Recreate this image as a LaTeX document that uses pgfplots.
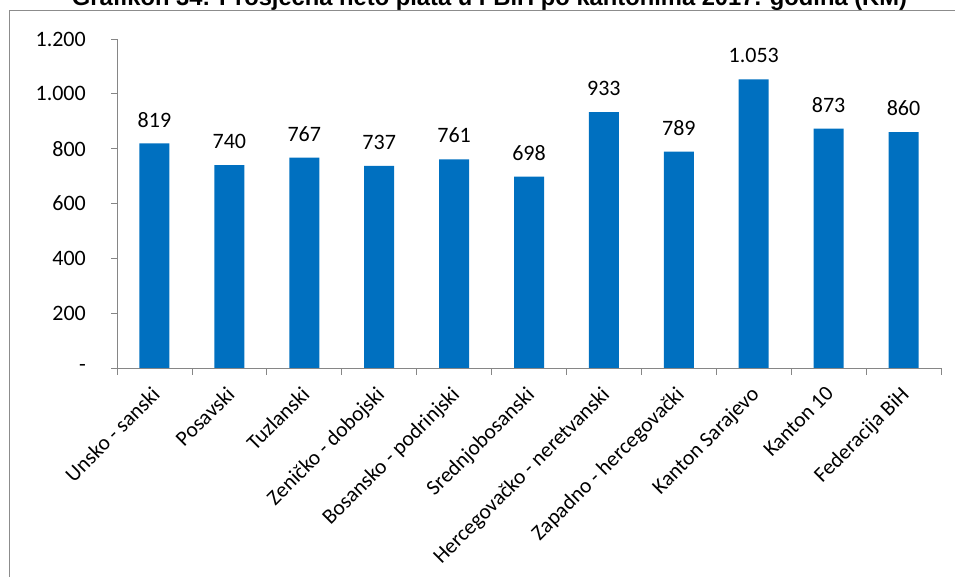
\documentclass[border=0pt]{standalone}
\usepackage{pgfplots}
\pgfplotsset{compat=1.18}
\usepackage{fontspec}
\setmainfont{Carlito}
\newfontfamily\titlefont{Liberation Sans}[BoldFont={* Bold}]
\definecolor{barblue}{HTML}{0070C0}
\definecolor{axgray}{HTML}{868686}
\definecolor{framegray}{HTML}{8C8C8C}
\begin{document}
\begin{tikzpicture}[x=1pt,y=1pt]
\draw[framegray, line width=1pt] (9.5,-20) rectangle (975,566);
\node[anchor=base, inner sep=0pt] at (489.5,571) {\resizebox{835pt}{!}{\titlefont\bfseries Grafikon 34: Prosječna neto plata u FBiH po kantonima 2017. godina (KM)}};
\begin{axis}[
  at={(117pt,209pt)}, anchor=south west,
  scale only axis, width=824pt, height=329pt,
  xmin=-0.5, xmax=10.5, ymin=0, ymax=1200,
  axis x line*=bottom, axis y line*=left,
  axis line style={draw=axgray, line width=0.8pt},
  tick align=outside,
  major tick length=6pt,
  minor tick length=7pt,
  tick style={draw=axgray, line width=0.8pt},
  xtick={0,...,10},
  major x tick style={draw=none},
  minor xtick={-0.5,0.5,...,10.5},
  xticklabels={Unsko - sanski, Posavski, Tuzlanski, Zeničko - dobojski, Bosansko - podrinjski, Srednjobosanski, Hercegovačko - neretvanski, Zapadno - hercegovački, Kanton Sarajevo, Kanton 10, Federacija BiH},
  ytick={0,200,400,600,800,1000,1200},
  yticklabels={-,200,400,600,800,1.000,1.200},
  font=\fontsize{22}{26}\selectfont,
  xticklabel style={xshift=-4pt, yshift=-11pt, rotate=45, anchor=north east, inner sep=0pt, font=\fontsize{21.5}{26}\selectfont},
  yticklabel style={anchor=east, inner sep=0pt, xshift=-25pt},
  ybar, bar width=30pt,
  point meta=explicit symbolic,
  nodes near coords,
  every node near coord/.append style={inner sep=0pt, anchor=south, yshift=16pt, font=\fontsize{22}{26}\selectfont, text=black},
]
\addplot[fill=barblue, draw=none] coordinates {
 (0,819) [819]
 (1,740) [740]
 (2,767) [767]
 (3,737) [737]
 (4,761) [761]
 (5,698) [698]
 (6,933) [933]
 (7,789) [789]
 (8,1053) [1.053]
 (9,873) [873]
 (10,860) [860]
};
\end{axis}
\pgfresetboundingbox
\useasboundingbox (0,0) rectangle (955,577);
\end{tikzpicture}
\end{document}
